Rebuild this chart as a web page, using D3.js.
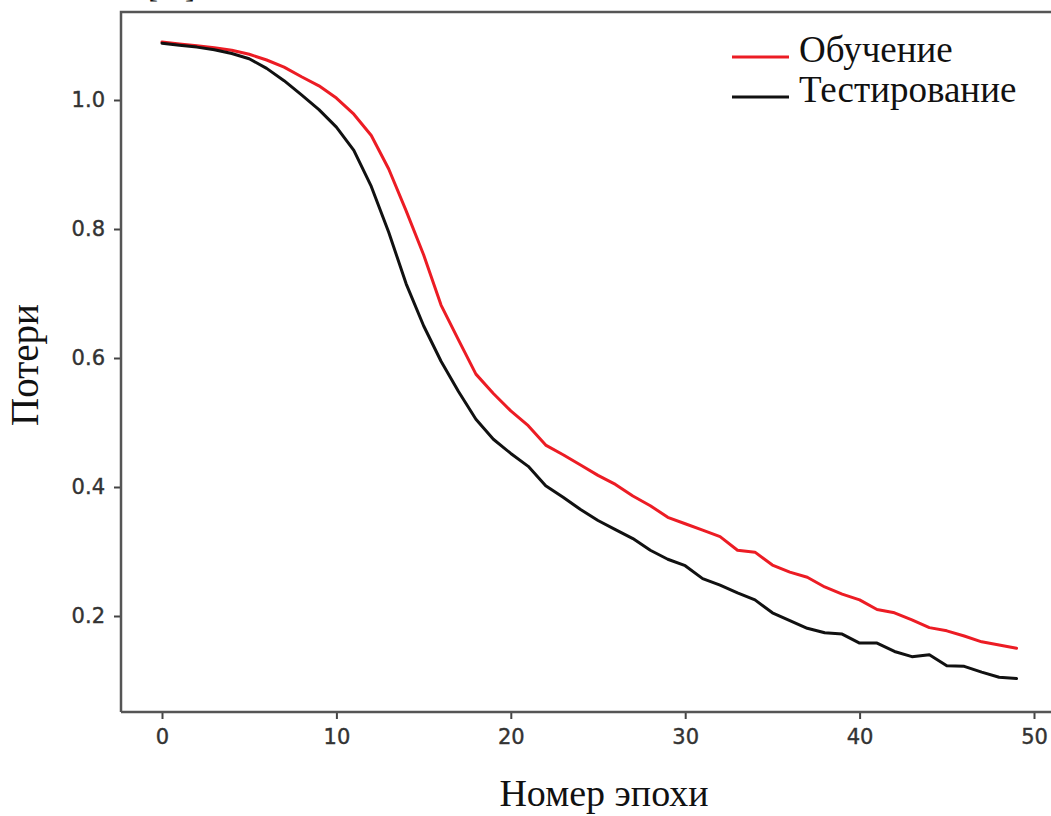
<!DOCTYPE html>
<html>
<head>
<meta charset="utf-8">
<script src="https://cdn.jsdelivr.net/npm/d3@7"></script>
<style>
  body { margin: 0; background: #fff; }
  svg { display: block; }
</style>
</head>
<body>
<div id="chart"></div>
<script>
// epochs 0..49
const epochs = d3.range(0, 50);

const trainLoss = [
  1.090, 1.087, 1.084, 1.081, 1.077, 1.071, 1.062, 1.051, 1.036, 1.022,
  1.003, 0.978, 0.945, 0.893, 0.828, 0.760, 0.682, 0.628, 0.575, 0.545,
  0.518, 0.495, 0.465, 0.450, 0.434, 0.418, 0.404, 0.386, 0.371, 0.353,
  0.343, 0.333, 0.323, 0.302, 0.299, 0.279, 0.268, 0.260, 0.245, 0.234,
  0.225, 0.210, 0.205, 0.194, 0.182, 0.177, 0.169, 0.160, 0.155, 0.150
];

const testLoss = [
  1.088, 1.085, 1.082, 1.078, 1.072, 1.064, 1.049, 1.030, 1.008, 0.985,
  0.958, 0.922, 0.866, 0.795, 0.715, 0.650, 0.595, 0.548, 0.505, 0.474,
  0.452, 0.432, 0.402, 0.384, 0.365, 0.348, 0.334, 0.320, 0.302, 0.288,
  0.278, 0.258, 0.248, 0.236, 0.225, 0.205, 0.193, 0.181, 0.174, 0.172,
  0.158, 0.158, 0.145, 0.137, 0.140, 0.123, 0.122, 0.113, 0.105, 0.103
];

const xTicks = [0, 10, 20, 30, 40, 50];
const yTicks = [0.2, 0.4, 0.6, 0.8, 1.0];

const seriesNames = ["Обучение", "Тестирование"];
const seriesColors = ["#ec1c24", "#111111"];

const width = 1051, height = 816;
const plot = {left: 121, top: 12, bottom: 712, right: 1060};

const x = d3.scaleLinear().domain([0, 50]).range([162, 1034]);
const y = d3.scaleLinear().domain([0.2, 1.0]).range([616, 100]);

const svg = d3.select("#chart").append("svg")
  .attr("width", width)
  .attr("height", height);

const serif = "'Liberation Serif', 'Times New Roman', serif";

// cut-off reference mark above the plot
svg.append("text")
  .attr("x", 148).attr("y", -3)
  .attr("font-family", serif)
  .attr("font-size", 30)
  .attr("fill", "#111")
  .attr("letter-spacing", 6)
  .text("[1]");

svg.append("clipPath").attr("id", "clip")
  .append("rect")
  .attr("x", plot.left).attr("y", plot.top)
  .attr("width", plot.right - plot.left)
  .attr("height", plot.bottom - plot.top);

const line = d3.line()
  .x((d, i) => x(epochs[i]))
  .y(d => y(d));

const lines = svg.append("g").attr("clip-path", "url(#clip)");
[trainLoss, testLoss].forEach((data, k) => {
  lines.append("path")
    .datum(data)
    .attr("fill", "none")
    .attr("stroke", seriesColors[k])
    .attr("stroke-width", 3)
    .attr("stroke-linejoin", "round")
    .attr("stroke-linecap", "round")
    .attr("d", line);
});

// axes
const tickFont = "'DejaVu Sans', Verdana, sans-serif";

const xAxis = svg.append("g")
  .attr("transform", "translate(0," + plot.bottom + ")")
  .call(d3.axisBottom(x).tickValues(xTicks).tickSize(7).tickPadding(10).tickFormat(d3.format("d")));

const yAxis = svg.append("g")
  .attr("transform", "translate(" + plot.left + ",0)")
  .call(d3.axisLeft(y).tickValues(yTicks).tickSize(7).tickPadding(9).tickFormat(d3.format(".1f")));

[xAxis, yAxis].forEach(g => {
  g.select(".domain").remove();
  g.selectAll(".tick line").attr("stroke", "#444").attr("stroke-width", 2);
  g.selectAll(".tick text")
    .attr("fill", "#333")
    .attr("stroke", "#333")
    .attr("stroke-width", 0.4)
    .attr("font-family", tickFont)
    .attr("font-size", 21);
});

// spines: left, top, bottom (right edge is cut off)
const spine = svg.append("g").attr("stroke", "#555").attr("stroke-width", 2.5).attr("fill", "none");
spine.append("path").attr("d", "M" + plot.left + "," + plot.bottom + "V" + plot.top + "H" + width);
spine.append("path").attr("d", "M" + plot.left + "," + plot.bottom + "H" + width);

svg.append("text")
  .attr("x", 604).attr("y", 806)
  .attr("text-anchor", "middle")
  .attr("font-family", serif)
  .attr("font-size", 38)
  .attr("fill", "#111")
  .text("Номер эпохи");

svg.append("text")
  .attr("transform", "translate(38,365) rotate(-90)")
  .attr("text-anchor", "middle")
  .attr("font-family", serif)
  .attr("font-size", 39)
  .attr("fill", "#111")
  .text("Потери");

// legend
const legend = svg.append("g");
seriesNames.forEach((name, k) => {
  const ly = 57 + k * 40;
  legend.append("line")
    .attr("x1", 732).attr("x2", 789)
    .attr("y1", ly).attr("y2", ly)
    .attr("stroke", seriesColors[k])
    .attr("stroke-width", 3);
  legend.append("text")
    .attr("x", 799).attr("y", ly + 5)
    .attr("font-family", serif)
    .attr("font-size", 37)
    .attr("fill", "#111")
    .text(name);
});
</script>
</body>
</html>
